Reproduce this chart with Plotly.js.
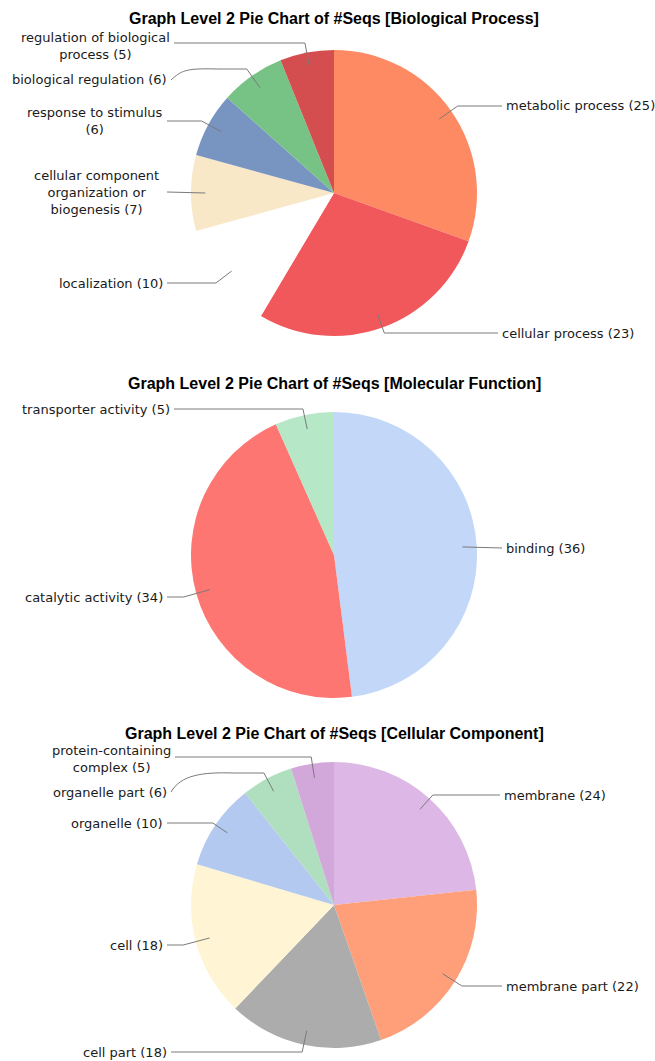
<!DOCTYPE html>
<html>
<head>
<meta charset="utf-8">
<script src="https://cdn.plot.ly/plotly-3.0.1.min.js"></script>
<style>html,body{margin:0;padding:0;background:#fff;}#chart{width:655px;height:1061px;}</style>
</head>
<body>
<div id="chart"></div>
<script>
// ---------- DATA ----------
const bpTitle = 'Graph Level 2 Pie Chart of #Seqs [Biological Process]';
const bpLabels = ['metabolic process', 'cellular process', 'localization',
  'cellular component organization or biogenesis', 'response to stimulus',
  'biological regulation', 'regulation of biological process'];
const bpValues = [25, 23, 10, 7, 6, 6, 5];

const mfTitle = 'Graph Level 2 Pie Chart of #Seqs [Molecular Function]';
const mfLabels = ['binding', 'catalytic activity', 'transporter activity'];
const mfValues = [36, 34, 5];

const ccTitle = 'Graph Level 2 Pie Chart of #Seqs [Cellular Component]';
const ccLabels = ['membrane', 'membrane part', 'cell part', 'cell', 'organelle',
  'organelle part', 'protein-containing complex'];
const ccValues = [24, 22, 18, 18, 10, 6, 5];

// ---------- STYLE / LAYOUT ----------
const bpColors = ['#fd8a63', '#f0585c', '#ffffff', '#f9e8c8', '#7895c2', '#77c386', '#d54e4f'];
const mfColors = ['#c3d7f9', '#fd7672', '#b6e7c6'];
const ccColors = ['#ddb7e5', '#fe9f7a', '#acacac', '#fff5d4', '#b4c9f0', '#afdfbf', '#d2a7d9'];

// label text as displayed (line breaks)
const bpText = ['metabolic process (25)', 'cellular process (23)', 'localization (10)',
  'cellular component<br>organization or<br>biogenesis (7)', 'response to stimulus<br>(6)',
  'biological regulation (6)', 'regulation of biological<br>process (5)'];
const mfText = ['binding (36)', 'catalytic activity (34)', 'transporter activity (5)'];
const ccText = ['membrane (24)', 'membrane part (22)', 'cell part (18)', 'cell (18)',
  'organelle (10)', 'organelle part (6)', 'protein-containing<br>complex (5)'];

const W = 655, H = 1061;
// pie geometry in pixels: center x, center y, radius; title y
const pies = [
  {labels: bpLabels, values: bpValues, colors: bpColors, text: bpText, title: bpTitle, cx: 334, cy: 193, r: 143, ty: 18,
   pos: [
     {side: 'R', x: 502, y: 106},
     {side: 'R', x: 498, y: 333},
     {side: 'L', x: 167, y: 283},
     {side: 'L', x: 167, y: 192, tx: 161},
     {side: 'L', x: 167, y: 121},
     {side: 'L', x: 171, y: 80, ey: 69},
     {side: 'L', x: 174, y: 43, textY: 46}
   ]},
  {labels: mfLabels, values: mfValues, colors: mfColors, text: mfText, title: mfTitle, cx: 334, cy: 555, r: 143, ty: 383,
   pos: [
     {side: 'R', x: 502, y: 548},
     {side: 'L', x: 167, y: 597},
     {side: 'L', x: 174, y: 409}
   ]},
  {labels: ccLabels, values: ccValues, colors: ccColors, text: ccText, title: ccTitle, cx: 334, cy: 905, r: 143, ty: 733,
   pos: [
     {side: 'R', x: 500, y: 795},
     {side: 'R', x: 502, y: 986},
     {side: 'L', x: 171, y: 1052},
     {side: 'L', x: 167, y: 945},
     {side: 'L', x: 167, y: 823},
     {side: 'L', x: 171, y: 792, ey: 773},
     {side: 'L', x: 175, y: 757, textY: 759}
   ]}
];

const px = x => x / W;
const py = y => 1 - y / H;

const traces = [], annotations = [], shapes = [];
const labelFont = {family: 'DejaVu Sans, sans-serif', size: 13, color: '#1a1a1a'};
const lineColor = '#7a7a7a';

pies.forEach(p => {
  traces.push({
    type: 'pie', labels: p.labels, values: p.values, sort: false, direction: 'clockwise', rotation: 0,
    marker: {colors: p.colors, line: {width: 0}}, textinfo: 'none', hoverinfo: 'label+value',
    showlegend: false,
    domain: {x: [px(p.cx - p.r), px(p.cx + p.r)], y: [py(p.cy + p.r), py(p.cy - p.r)]}
  });
  annotations.push({
    xref: 'paper', yref: 'paper', x: px(p.cx), y: py(p.ty), xanchor: 'center', yanchor: 'middle',
    text: p.title, showarrow: false,
    font: {family: 'Liberation Sans, Arial, sans-serif', size: 16, weight: 'bold', color: '#000'}
  });
  const total = p.values.reduce((a, b) => a + b, 0);
  let acc = 0;
  p.values.forEach((v, i) => {
    const mid = (acc + v / 2) / total * 2 * Math.PI;
    acc += v;
    const ux = Math.sin(mid), uy = -Math.cos(mid);
    const ax = p.cx + 0.9 * p.r * ux, ay = p.cy + 0.9 * p.r * uy;
    const L = p.pos[i];
    const lineY = (L.ey !== undefined) ? L.ey : L.y;
    let t = 0;
    if (Math.abs(uy) > 0.05) {
      t = (lineY - ay) / uy;
      if (t < 0 || t > 40) t = 0;
    }
    const ex = ax + t * ux, ey = ay + t * uy;
    let path = `M ${px(ax)} ${py(ay)} L ${px(ex)} ${py(ey)}`;
    if (L.ey !== undefined) {
      path += ` L ${px(ex - 30)} ${py(ey)} C ${px(ex - 62)} ${py(ey - 1)} ${px(L.x + 10)} ${py(ey + 2)} ${px(L.x)} ${py(L.y)}`;
    } else {
      path += ` L ${px(L.x)} ${py(L.y)}`;
    }
    shapes.push({type: 'path', xref: 'paper', yref: 'paper', path: path, line: {color: lineColor, width: 1}});
    const isR = L.side === 'R';
    const tx = L.tx !== undefined ? L.tx : (isR ? L.x + 2 : L.x - 2);
    annotations.push({
      xref: 'paper', yref: 'paper', x: px(tx), y: py(L.textY !== undefined ? L.textY : L.y),
      xanchor: isR ? 'left' : 'right', yanchor: 'middle', align: 'center',
      text: p.text[i], showarrow: false, font: labelFont
    });
  });
});

const layout = {
  width: W, height: H, margin: {l: 0, r: 0, t: 0, b: 0},
  paper_bgcolor: '#ffffff', plot_bgcolor: '#ffffff',
  annotations: annotations, shapes: shapes
};
Plotly.newPlot('chart', traces, layout, {displayModeBar: false, staticPlot: true});
</script>
</body>
</html>
